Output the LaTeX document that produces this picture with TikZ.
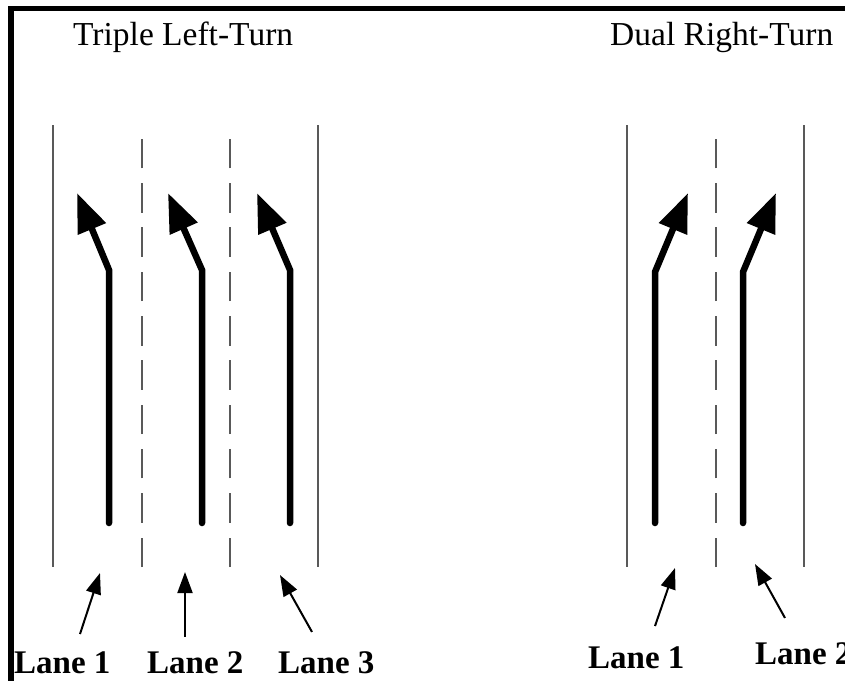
\documentclass[tikz,border=0pt]{standalone}
\usepackage{fontspec}
\setmainfont{Liberation Serif}
\usetikzlibrary{arrows.meta}

\begin{document}
\begin{tikzpicture}[x=1pt,y=-1pt,
   edge/.style={line width=2pt,black!65},
   divider/.style={edge,dash pattern=on 29.5pt off 14.8pt},
   turn/.style={line width=6.5pt,line cap=round,-{Triangle[length=39pt,width=29pt]}},
   pointer/.style={line width=2pt,-{Triangle[length=21pt,width=15pt]}},
   title/.style={font=\fontsize{33.5}{40}\selectfont,anchor=base west,inner sep=0pt},
   lane/.style={font=\bfseries\fontsize{33}{40}\selectfont,anchor=base west,inner sep=0pt}]
  \useasboundingbox (0,0) rectangle (845,681);
  % frame
  \fill (8,6) rectangle (845,11);
  \fill (8,6) rectangle (14,681);
  % titles
  \node[title] (tl) at (73,45) {Triple Left-Turn};
  \node[title] (tr) at (610,45) {Dual Right-Turn};
  % lane edges
  \foreach \x in {53,318,627,804}
    \draw[edge] (\x,125) -- (\x,567);
  \foreach \x in {142,230,716}
    \draw[divider] (\x,567) -- (\x,125);
  % turn arrows
  \draw[turn] (109,523) -- (109,270) -- (77,193);
  \draw[turn] (202,523) -- (202,270) -- (168,193);
  \draw[turn] (290,523) -- (290,270) -- (257,193);
  \draw[turn] (655,523) -- (655,272) -- (688,193);
  \draw[turn] (743,523) -- (743,272) -- (776,193);
  % lane labels
  \node[lane] (l1) at (14,673) {Lane 1};
  \node[lane] (l2) at (147,673) {Lane 2};
  \node[lane] (l3) at (278,673) {Lane 3};
  \node[lane] (r1) at (588,668) {Lane 1};
  \node[lane] (r2) at (755,664) {Lane 2};
  \coordinate (l1 tip) at (100,573);
  \coordinate (l2 tip) at (185,572);
  \coordinate (l3 tip) at (280,575);
  \coordinate (r1 tip) at (675,568);
  \coordinate (r2 tip) at (755,564);
  \draw[pointer] (l1.north west) ++(66,-17) -- (l1 tip);
  \draw[pointer] (l2.north west) ++(38,-14) -- (l2 tip);
  \draw[pointer] (l3.north west) ++(34,-19) -- (l3 tip);
  \draw[pointer] (r1.north west) ++(67,-20) -- (r1 tip);
  \draw[pointer] (r2.north west) ++(30,-24) -- (r2 tip);
\end{tikzpicture}
\end{document}
